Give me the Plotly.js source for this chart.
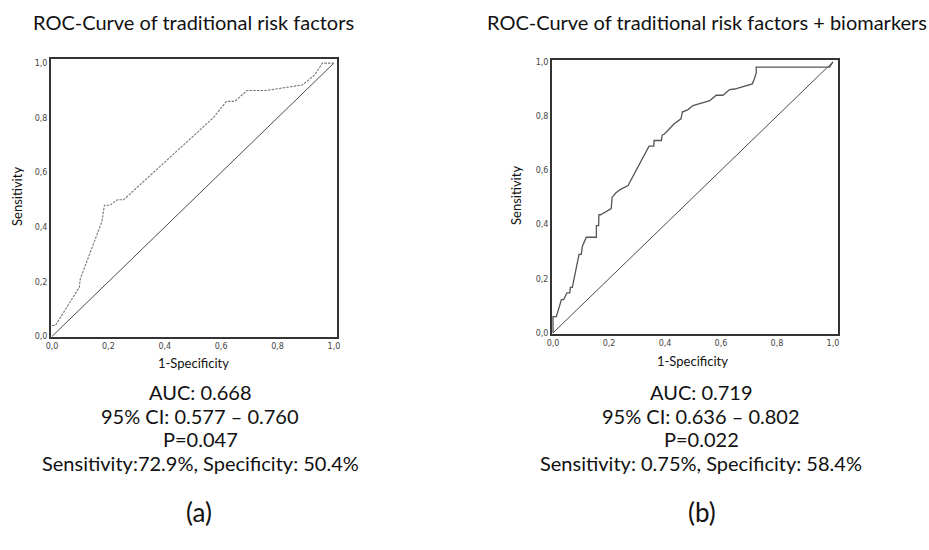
<!DOCTYPE html>
<html>
<head>
<meta charset="utf-8">
<script src="https://cdn.plot.ly/plotly-3.0.1.min.js"></script>
<style>
html,body{margin:0;padding:0;background:#fff;}
#chart{width:929px;height:550px;}
</style>
</head>
<body>
<div id="chart"></div>
<script>
// ROC (a): traditional risk factors
const fprA = [0, 0.012, 0.097, 0.10, 0.177, 0.186, 0.206, 0.232, 0.254, 0.572, 0.619, 0.649, 0.692, 0.76, 0.888, 0.932, 0.959, 1.0];
const tprA = [0.04, 0.04, 0.18, 0.21, 0.42, 0.48, 0.48, 0.50, 0.50, 0.80, 0.86, 0.86, 0.90, 0.90, 0.92, 0.957, 1.0, 1.0];

// ROC (b): traditional risk factors + biomarkers
const fprB = [0, 0, 0.012, 0.018, 0.03, 0.038, 0.05, 0.06, 0.062, 0.069, 0.093, 0.101, 0.105, 0.119, 0.155, 0.155, 0.163, 0.164, 0.17, 0.208, 0.211, 0.224, 0.24, 0.268, 0.343, 0.36, 0.361, 0.387, 0.39, 0.398, 0.433, 0.457, 0.462, 0.482, 0.5, 0.56, 0.583, 0.607, 0.631, 0.649, 0.712, 0.72, 0.726, 0.726, 0.988, 1.0];
const tprB = [0, 0.06, 0.06, 0.08, 0.123, 0.123, 0.148, 0.148, 0.168, 0.168, 0.29, 0.29, 0.32, 0.353, 0.353, 0.396, 0.396, 0.436, 0.436, 0.459, 0.50, 0.516, 0.529, 0.544, 0.689, 0.689, 0.71, 0.71, 0.73, 0.734, 0.772, 0.79, 0.815, 0.824, 0.839, 0.857, 0.877, 0.877, 0.898, 0.90, 0.919, 0.94, 0.959, 0.981, 0.981, 1.0];

// Reference diagonal
const diagX = [0, 1];
const diagY = [0, 1];

const tickVals = [0, 0.2, 0.4, 0.6, 0.8, 1.0];
const tickText = ["0,0", "0,2", "0,4", "0,6", "0,8", "1,0"];

const titleA = "ROC-Curve of traditional risk factors";
const titleB = "ROC-Curve of traditional risk factors + biomarkers";
const xTitle = "1-Specificity";
const yTitle = "Sensitivity";
const statsA = ["AUC: 0.668", "95% CI: 0.577 \u2013 0.760", "P=0.047", "Sensitivity:72.9%, Specificity: 50.4%"];
const statsB = ["AUC: 0.719", "95% CI: 0.636 \u2013 0.802", "P=0.022", "Sensitivity: 0.75%, Specificity: 58.4%"];
const panelLabels = ["(a)", "(b)"];

const W = 929, H = 550;
const px = v => v / W;
const py = v => 1 - v / H;

const FONT = "Lato, 'Open Sans', sans-serif";

const traces = [
  {x: diagX, y: diagY, xaxis: 'x', yaxis: 'y', mode: 'lines', line: {color: '#4a4a4a', width: 1}, hoverinfo: 'skip'},
  {x: fprA, y: tprA, xaxis: 'x', yaxis: 'y', mode: 'lines', line: {color: '#777', width: 1.1, dash: '2.5px,1.2px'}},
  {x: diagX, y: diagY, xaxis: 'x2', yaxis: 'y2', mode: 'lines', line: {color: '#4a4a4a', width: 1}, hoverinfo: 'skip'},
  {x: fprB, y: tprB, xaxis: 'x2', yaxis: 'y2', mode: 'lines', line: {color: '#555', width: 1.3}}
];

function axis(domain, range, anchor) {
  return {
    domain: domain, range: range, anchor: anchor,
    showline: true, mirror: true, linecolor: '#333', linewidth: 2,
    showgrid: false, zeroline: false,
    tickmode: 'array', tickvals: tickVals, ticktext: tickText,
    ticks: '', ticklen: 0,
    tickfont: {family: "'DejaVu Sans', sans-serif", size: 8, color: '#444'},
    fixedrange: true
  };
}

const annotations = [];
function addText(text, x, y, size, opts) {
  annotations.push(Object.assign({
    text: text, x: px(x), y: py(y), xref: 'paper', yref: 'paper',
    xanchor: 'center', yanchor: 'middle', showarrow: false,
    font: {family: FONT, size: size, color: '#111'}
  }, opts || {}));
}

addText(titleA, 193, 22, 20);
addText(titleB, 707, 22, 20);
addText(xTitle, 193, 363, 13);
addText(xTitle, 692, 361, 13);
addText(yTitle, 17, 197, 13, {textangle: -90});
addText(yTitle, 516, 196, 13, {textangle: -90});

const lineY = [392, 416, 439, 463];
statsA.forEach((s, i) => addText(s, 200, lineY[i], 20));
statsB.forEach((s, i) => addText(s, 701, lineY[i], 20));
addText(panelLabels[0], 199, 512, 26);
addText(panelLabels[1], 702, 512, 26);

const layout = {
  width: W, height: H,
  margin: {l: 0, r: 0, t: 0, b: 0},
  paper_bgcolor: '#fff', plot_bgcolor: '#fff',
  showlegend: false,
  xaxis: axis([px(51), px(337)], [-0.0035, 1.011], 'y'),
  yaxis: axis([py(337), py(59)], [-0.002, 1.015], 'x'),
  xaxis2: axis([px(552), px(838)], [-0.0036, 1.018], 'y2'),
  yaxis2: axis([py(334), py(60)], [-0.004, 1.007], 'x2'),
  annotations: annotations
};

Plotly.newPlot('chart', traces, layout, {staticPlot: true, displayModeBar: false});
</script>
</body>
</html>
